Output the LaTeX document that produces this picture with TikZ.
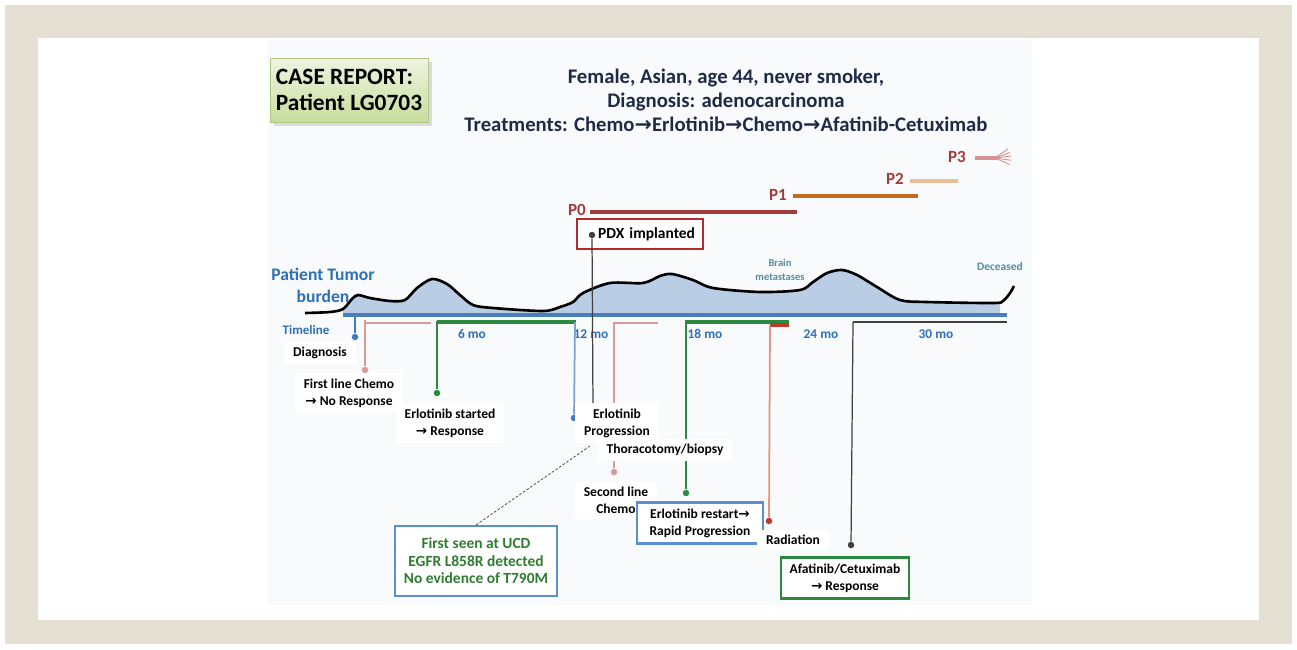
\documentclass[tikz,border=0pt]{standalone}
\usepackage{fontspec}
\setmainfont{Carlito}
\newfontfamily\arrowfont{DejaVu Sans}
\usetikzlibrary{shadows}

\definecolor{framebeige}{HTML}{E6E0D4}
\definecolor{slidebg}{HTML}{F9FAFC}
\definecolor{titlenavy}{HTML}{1F2B45}
\definecolor{casetop}{HTML}{EEF4E0}
\definecolor{casebot}{HTML}{C9DD9D}
\definecolor{caseedge}{HTML}{AFC883}
\definecolor{pred}{HTML}{A33B3B}
\definecolor{pone}{HTML}{C46A22}
\definecolor{ptwo}{HTML}{EBBF95}
\definecolor{pthree}{HTML}{D89090}
\definecolor{pdxred}{HTML}{B22A2E}
\definecolor{burdenfill}{HTML}{B9CDE4}
\definecolor{axisblue}{HTML}{4A7EBB}
\definecolor{textblue}{HTML}{2E70B5}
\definecolor{tealtext}{HTML}{4F8FA2}
\definecolor{pinkline}{HTML}{DB9A98}
\definecolor{greenline}{HTML}{2B8A3E}
\definecolor{bluestem}{HTML}{7BA3D9}
\definecolor{bluedot}{HTML}{3D7CC9}
\definecolor{redbar}{HTML}{C0392B}
\definecolor{salmon}{HTML}{E39480}
\definecolor{darkline}{HTML}{404040}
\definecolor{boxblue}{HTML}{5B8FD4}
\definecolor{seengreen}{HTML}{2F7D32}

\newcommand{\rarrow}{{\arrowfont\bfseries →}}

\begin{document}
\begin{tikzpicture}[
    x=0.02cm, y=-0.02cm,
    casebox/.style={
        draw=caseedge, top color=casetop, bottom color=casebot,
        minimum width=3.16cm, minimum height=1.28cm, align=left,
        font=\fontsize{13.3}{14.8}\selectfont\bfseries,
        drop shadow={opacity=0.25, shadow xshift=2pt, shadow yshift=-2pt}
    },
    title/.style={
        align=center, text=titlenavy,
        font=\fontsize{11.8}{13.7}\selectfont\bfseries
    },
    plbl/.style={text=pred, font=\fontsize{9.7}{10}\selectfont\bfseries},
    blue/.style={text=textblue, font=\fontsize{7.6}{9}\selectfont\bfseries},
    teal/.style={text=tealtext, align=center, font=\fontsize{6}{8}\selectfont\bfseries},
    lbl/.style={
        fill=white, align=center, inner xsep=5pt, inner ysep=3pt,
        font=\fontsize{7.7}{9.6}\selectfont\bfseries
    },
    framed/.style={
        lbl, line width=1.2pt, minimum width=2.52cm, minimum height=0.82cm
    },
    dot/.style={circle, inner sep=0pt, minimum size=0.13cm},
    stem/.style={line width=0.7pt},
    bar/.style={line width=1.5pt}
]
\useasboundingbox (0,0) rectangle (1297,649);

% Rahmen
\fill[white] (0,0) rectangle (1297,649);
\fill[framebeige] (5,5) rectangle (1292,644);
\fill[white] (38,38) rectangle (1259,620);
\fill[slidebg] (268,40) rectangle (1032,605);

% Titel
\node[casebox] (case) at (349,90) {CASE REPORT:\\Patient LG0703};
\node[title] (title) at (726,100) {Female, Asian, age 44, never smoker,\\
    Diagnosis: adenocarcinoma\\
    Treatments: Chemo\rarrow Erlotinib\rarrow Chemo\rarrow Afatinib-Cetuximab};

% Passagen P0-P3
\node[plbl] (p0) at (577,210) {P0};
\node[plbl] (p1) at (778,195) {P1};
\node[plbl] (p2) at (895,179) {P2};
\node[plbl] (p3) at (957,157) {P3};
\draw[pred, line width=2.4pt] (590,212) -- (797,212);
\draw[pone, line width=2.2pt] (793,196) -- (918,196);
\draw[ptwo, line width=2pt] (910,181) -- (958,181);
\draw[pthree, line width=1.8pt] (975,158) -- (997,158);
\foreach \a in {-35,-20,-7,8,24}
    \draw[pthree, line width=0.5pt] (995,158) -- ++(\a:16);

% PDX
\node[draw=pdxred, fill=white, line width=1.4pt, minimum width=2.52cm, minimum height=0.6cm,
    text width=2.2cm, inner xsep=0.16cm, align=right,
    font=\fontsize{8.8}{9.7}\selectfont\bfseries] (pdx) at (640,234) {PDX implanted};
\node[dot, fill=darkline] (pdxdot) at (592,235) {};

% Tumorlast
\begin{scope}
\clip (343,240) rectangle (1000,316);
\fill[burdenfill] (305,316) -- plot[smooth] coordinates {
    (305,313) (330,312) (343,309) (352,299) (358,295) (370,298) (390,301) (405,300)
    (417,288) (432,279) (447,284) (460,295) (473,305) (493,308) (543,311) (560,307)
    (573,302) (583,293) (610,283) (643,283) (660,276) (672,274) (693,280) (713,288)
    (760,292) (800,290) (813,282) (827,273) (842,270) (857,275) (877,287) (900,300)
    (927,302) (993,303) (1003,301) (1010,293) (1014,286)} -- (1014,316) -- cycle;
\end{scope}
\draw[black, line width=1.5pt] plot[smooth] coordinates {
    (305,313) (330,312) (343,309) (352,299) (358,295) (370,298) (390,301) (405,300)
    (417,288) (432,279) (447,284) (460,295) (473,305) (493,308) (543,311) (560,307)
    (573,302) (583,293) (610,283) (643,283) (660,276) (672,274) (693,280) (713,288)
    (760,292) (800,290) (813,282) (827,273) (842,270) (857,275) (877,287) (900,300)
    (927,302) (993,303) (1003,301) (1010,293) (1014,286)};
\draw[axisblue, line width=1.8pt] (343,315) -- (1007,315);

\node[text=textblue, align=center, font=\fontsize{10}{12.5}\selectfont\bfseries] (burden) at (323,285) {Patient Tumor\\burden};
\node[teal] (brain) at (780,270) {Brain\\metastases};
\node[teal, font=\fontsize{6.5}{8}\selectfont\bfseries] (dead) at (1000,267) {Deceased};

% Zeitachse
\node[blue, font=\fontsize{7.4}{8}\selectfont\bfseries] (timeline) at (306,330) {Timeline};
\node[blue] (m6) at (472,334) {6 mo};
\node[blue] (m12) at (591,334) {12 mo};
\node[blue] (m18) at (705,334) {18 mo};
\node[blue] (m24) at (821,334) {24 mo};
\node[blue] (m30) at (936,334) {30 mo};

\draw[bar, pinkline] (365,323) -- (431,323);
\draw[bar, greenline, line width=1.8pt] (437,322) -- (576,322);
\draw[bar, pinkline] (613,323) -- (658,323);
\draw[bar, greenline, line width=1.8pt] (685,322) -- (789,322);
\draw[bar, redbar, line width=1.8pt] (770,325) -- (789,325);
\draw[bar, darkline] (853,322) -- (1007,322);

% Ereignisse
\coordinate (tdiag) at (355,316);
\coordinate (tchemo1) at (365,320);
\coordinate (terl) at (437,321);
\coordinate (tprog) at (575,322);
\coordinate (pdxfoot) at (593,410);
\coordinate (tchemo2) at (614,322);
\coordinate (trestart) at (686,322);
\coordinate (trad) at (770,326);
\coordinate (tafa) at (853,322);

\node[dot, fill=bluedot] (ddiag) at (355,337) {};
\node[dot, fill=pinkline] (dchemo1) at (365,370) {};
\node[dot, fill=greenline] (derl) at (437,393) {};
\node[dot, fill=bluedot] (dprog) at (574,418) {};
\node[dot, fill=pinkline] (dchemo2) at (614,472) {};
\node[dot, fill=greenline] (drestart) at (686,493) {};
\node[dot, fill=redbar] (drad) at (769,521) {};
\node[dot, fill=darkline] (dafa) at (851,545) {};

\draw[stem, bluedot] (tdiag) -- (ddiag);
\draw[stem, pinkline] (tchemo1) -- (dchemo1);
\draw[stem, greenline] (terl) -- (derl);
\draw[stem, bluestem, line width=1pt] (tprog) -- (dprog);
\draw[stem, darkline] (pdxdot) -- (pdxfoot);
\draw[stem, pinkline, line width=1pt] (tchemo2) -- (dchemo2);
\draw[stem, greenline] (trestart) -- (drestart);
\draw[stem, salmon, line width=1pt] (trad) -- (drad);
\draw[stem, darkline] (tafa) -- (dafa);

\node[lbl] (ldiag) at (320,353) {Diagnosis};
\node[lbl] (lchemo1) at (349,393) {First line Chemo\\\rarrow\ No Response};
\node[lbl] (lerl) at (450,423) {Erlotinib started\\\rarrow\ Response};
\node[lbl] (lprog) at (617,423) {Erlotinib\\Progression};
\node[lbl] (lthor) at (665,450) {Thoracotomy/biopsy};
\node[lbl] (lchemo2) at (616,500) {Second line\\Chemo};
\node[framed, draw=boxblue] (lrestart) at (700,523) {Erlotinib restart\rarrow\\Rapid Progression};
\node[lbl] (lrad) at (793,540) {Radiation};
\node[framed, draw=greenline] (lafa) at (845,578) {Afatinib/Cetuximab\\\rarrow\ Response};

% Erstvorstellung
\node[framed, draw=boxblue, text=seengreen, minimum width=3.24cm, minimum height=1.4cm,
    font=\fontsize{8.8}{10}\selectfont\bfseries] (seen) at (476,561)
    {First seen at UCD\\EGFR L858R detected\\No evidence of T790M};
\coordinate (progfoot) at (590,446);
\draw[darkline, line width=0.4pt, dash pattern=on 1.5pt off 1pt] (seen.north) -- (progfoot);

\end{tikzpicture}
\end{document}
